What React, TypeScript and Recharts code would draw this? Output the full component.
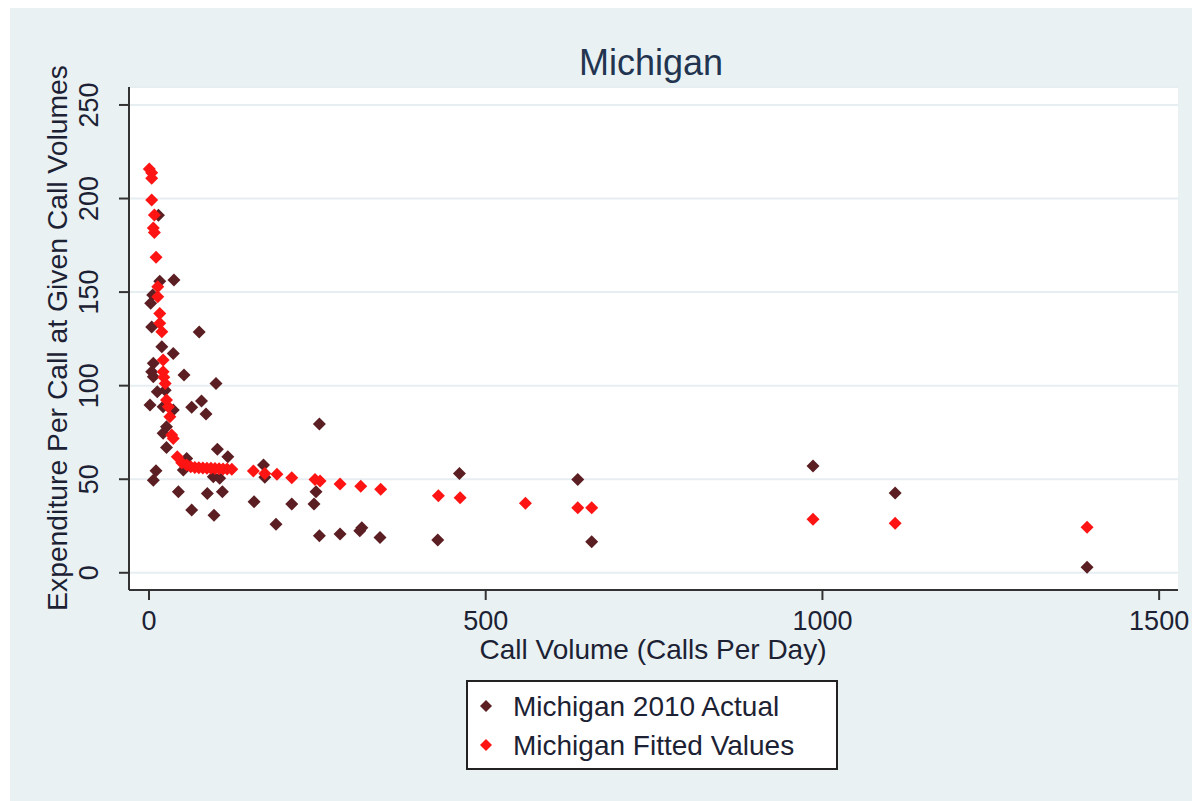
import React from 'react';
import { ScatterChart, Scatter, XAxis, YAxis, CartesianGrid } from 'recharts';

// Michigan 2010 actual: call volume (calls/day) and expenditure per call
const actualVolume = [14, 37, 16, 5.5, 2.5, 4, 74.5, 19, 36, 6.4, 4, 6.4, 52, 99.5, 12.3, 24, 1.5, 21, 36, 63.4, 78, 84.6, 26, 21, 26, 101.5, 117, 56, 51, 95.5, 105, 10.4, 6.4, 170, 43.6, 86.6, 109, 156, 63.4, 96.5, 253, 172, 248, 212, 245, 188.6, 253, 283.7, 316, 313, 343, 428.8, 461, 636.7, 657.4, 986, 1108, 1393];
const actualCost = [191, 156.4, 155.8, 148.4, 144, 131.3, 128.7, 120.8, 117.2, 112, 107.4, 104.8, 105.7, 101.2, 96.7, 97.6, 89.6, 88.7, 87, 88.4, 91.8, 84.8, 78, 74.5, 67, 66, 62, 61.1, 54.9, 51.3, 50.5, 54.5, 49.5, 57.6, 43.3, 42.4, 43.3, 38, 33.5, 30.8, 79.5, 51, 43.3, 36.7, 36.7, 26, 19.8, 20.7, 24, 22.4, 18.9, 17.5, 53.1, 49.9, 16.6, 57.1, 42.6, 3.0];

// Michigan fitted values
const fittedVolume = [0.5, 4, 4, 4, 8, 6.4, 8, 10.5, 13, 13, 16, 16, 19, 21, 21, 22, 24, 26, 28.7, 31, 33.7, 36, 42, 48.6, 56, 62, 68, 74, 80, 86, 92, 98, 104, 110, 116, 123, 155, 172, 190, 212, 246.5, 254, 283.7, 314.4, 344, 429.7, 462, 559, 636.7, 657.4, 986, 1108, 1393];
const fittedCost = [215.8, 213.8, 210.8, 199.2, 191.2, 184.2, 181.9, 168.6, 152.9, 147.5, 138.6, 133.4, 128.8, 113.7, 107.4, 104.5, 101.2, 92.3, 88.7, 83.4, 73.6, 71.8, 62, 58.8, 57.6, 56.6, 56.3, 56.1, 56, 55.9, 55.8, 55.7, 55.6, 55.5, 55.4, 55.3, 54.4, 53.1, 52.6, 50.8, 49.9, 49, 47.4, 46.3, 44.6, 41.1, 40.1, 37.1, 34.7, 34.7, 28.6, 26.5, 24.4];

const xTicks = [0, 500, 1000, 1500];
const yTicks = [0, 50, 100, 150, 200, 250];

const TITLE = 'Michigan';
const X_TITLE = 'Call Volume (Calls Per Day)';
const Y_TITLE = 'Expenditure Per Call at Given Call Volumes';
const SERIES_ACTUAL = 'Michigan 2010 Actual';
const SERIES_FITTED = 'Michigan Fitted Values';

const actualData = actualVolume.map((v, i) => ({ x: v, y: actualCost[i] }));
const fittedData = fittedVolume.map((v, i) => ({ x: v, y: fittedCost[i] }));

const ACTUAL_COLOR = '#5B1F23';
const FITTED_COLOR = '#FF1414';
const FONT = '"Liberation Sans", Arial, sans-serif';
const TEXT_COLOR = '#1c2233';

const makeDiamond = (color: string, r: number) => (props: any) => {
  const { cx, cy } = props;
  if (cx == null || cy == null) return <g />;
  return (
    <path
      d={`M${cx},${cy - r}L${cx + r},${cy}L${cx},${cy + r}L${cx - r},${cy}Z`}
      fill={color}
    />
  );
};

const YTick = (props: any) => {
  const { x, y, payload } = props;
  return (
    <text
      x={x}
      y={y}
      transform={`rotate(-90 ${x} ${y})`}
      textAnchor="middle"
      fontSize={27}
      fontFamily={FONT}
      fill={TEXT_COLOR}
    >
      {payload.value}
    </text>
  );
};

export default function App() {
  return (
    <div style={{ position: 'absolute', left: 0, top: 0, width: 1192, height: 801, background: '#ffffff', overflow: 'hidden' }}>
      <div style={{ position: 'absolute', left: 10, top: 8, right: 0, bottom: 0, background: '#E9F1F3' }} />
      <div style={{ position: 'absolute', left: 0, top: 0 }}>
        <ScatterChart width={1192} height={801} margin={{ top: 87, right: 14, bottom: 181, left: 59 }}>
          <CartesianGrid horizontal vertical={false} stroke="#E6EEF2" strokeWidth={2} fill="#ffffff" fillOpacity={1} />
          <XAxis
            type="number"
            dataKey="x"
            domain={[-29.7, 1528]}
            ticks={xTicks}
            allowDataOverflow
            height={30}
            tickSize={10}
            tickMargin={11}
            axisLine={{ stroke: '#333', strokeWidth: 2 }}
            tickLine={{ stroke: '#333', strokeWidth: 2 }}
            tick={{ fontSize: 27, fontFamily: FONT, fill: TEXT_COLOR }}
          />
          <YAxis
            type="number"
            dataKey="y"
            domain={[-9.2, 259.6]}
            ticks={yTicks}
            allowDataOverflow
            width={70}
            tickSize={10}
            tickMargin={21}
            axisLine={{ stroke: '#333', strokeWidth: 2 }}
            tickLine={{ stroke: '#333', strokeWidth: 2 }}
            tick={<YTick />}
          />
          <Scatter name={SERIES_ACTUAL} data={actualData} fill={ACTUAL_COLOR} shape={makeDiamond(ACTUAL_COLOR, 6.5)} isAnimationActive={false} />
          <Scatter name={SERIES_FITTED} data={fittedData} fill={FITTED_COLOR} shape={makeDiamond(FITTED_COLOR, 6.5)} isAnimationActive={false} />
        </ScatterChart>
      </div>
      <svg width={1192} height={801} style={{ position: 'absolute', left: 0, top: 0, pointerEvents: 'none' }}>
        <text x={651} y={75} textAnchor="middle" fontSize={36} fontFamily={FONT} fill="#22344f">{TITLE}</text>
        <text x={653} y={659} textAnchor="middle" fontSize={28} fontFamily={FONT} fill={TEXT_COLOR}>{X_TITLE}</text>
        <text x={67} y={338} transform="rotate(-90 67 338)" textAnchor="middle" fontSize={28.3} fontFamily={FONT} fill={TEXT_COLOR}>{Y_TITLE}</text>
        <rect x={467} y={681} width={370} height={88} fill="#ffffff" stroke="#222" strokeWidth={2} />
        <path d="M486,700L492,706L486,712L480,706Z" fill={ACTUAL_COLOR} />
        <path d="M486,739L492,745L486,751L480,745Z" fill={FITTED_COLOR} />
        <text x={513} y={716} fontSize={28} fontFamily={FONT} fill={TEXT_COLOR}>{SERIES_ACTUAL}</text>
        <text x={513} y={755} fontSize={28} fontFamily={FONT} fill={TEXT_COLOR}>{SERIES_FITTED}</text>
      </svg>
    </div>
  );
}
